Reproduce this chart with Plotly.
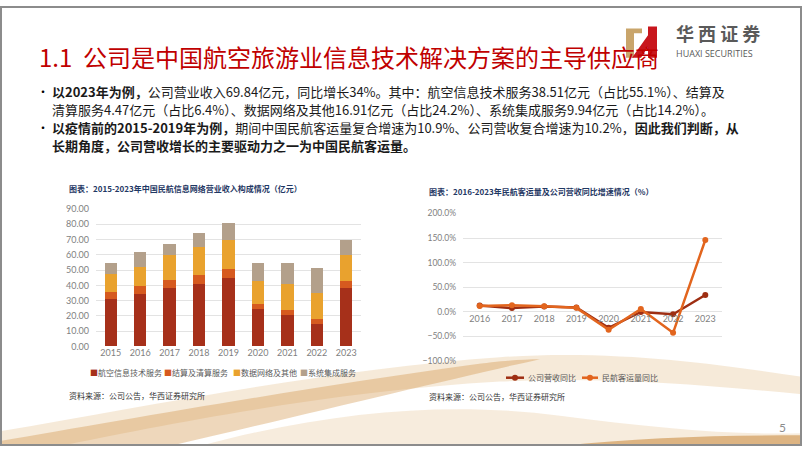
import plotly.graph_objects as go

W, H = 802, 451

# ---------------- data ----------------
years_bar = ["2015", "2016", "2017", "2018", "2019", "2020", "2021", "2022", "2023"]
bar_names = ["航空信息技术服务", "结算及清算服务", "数据网络及其他", "系统集成服务"]
aviation = [30.8, 34.3, 38.4, 41.2, 44.6, 24.3, 20.7, 14.9, 38.51]
settlement = [5.0, 5.1, 5.1, 5.5, 5.9, 3.8, 3.2, 3.0, 4.47]
data_net = [11.5, 12.8, 16.2, 18.1, 19.0, 15.0, 17.0, 17.1, 16.91]
system_int = [7.1, 9.6, 7.3, 9.6, 11.3, 11.3, 13.5, 16.6, 9.94]
bar_colors = ["#A6301A", "#D65A1F", "#E9A22E", "#B3A08B"]

years_line = ["2016", "2017", "2018", "2019", "2020", "2021", "2022", "2023"]
line_names = ["公司营收同比", "民航客运量同比"]
rev_yoy = [12.5, 7.5, 10.5, 8.5, -32.7, -0.5, -5.1, 34.0]
pax_yoy = [11.9, 13.0, 10.9, 7.9, -36.7, 5.5, -42.9, 146.1]
line_colors = ["#9E2E12", "#E2651E"]

title = "1.1  公司是中国航空旅游业信息技术解决方案的主导供应商"
bullets = [
    "<b>以2023年为例，</b>公司营业收入69.84亿元，同比增长34%。其中：航空信息技术服务38.51亿元（占比55.1%）、结算及",
    "清算服务4.47亿元（占比6.4%）、数据网络及其他16.91亿元（占比24.2%）、系统集成服务9.94亿元（占比14.2%）。",
    "<b>以疫情前的2015-2019年为例，</b>期间中国民航客运量复合增速为10.9%、公司营收复合增速为10.2%，<b>因此我们判断，从</b>",
    "<b>长期角度，公司营收增长的主要驱动力之一为中国民航客运量。</b>",
]
chart1_title = "图表：2015-2023年中国民航信息网络营业收入构成情况（亿元）"
chart2_title = "图表：2016-2023年民航客运量及公司营收同比增速情况（%）"
source_text = "资料来源：公司公告，华西证券研究所"

CJK = "Noto Sans CJK SC"
NUM = "Lato"


def px(x):
    return x / W


def py(y):
    return 1 - y / H


def path(pts):
    return "M " + " L ".join(f"{px(x):.5f},{py(y):.5f}" for x, y in pts) + " Z"


def curve_path(cmds):
    out = []
    for c, pts in cmds:
        out.append(c + " " + " ".join(f"{px(x):.5f},{py(y):.5f}" for x, y in pts))
    return " ".join(out) + " Z"


fig = go.Figure()

for name, vals, col in zip(bar_names, [aviation, settlement, data_net, system_int], bar_colors):
    fig.add_trace(go.Bar(x=years_bar, y=vals, name=name, marker_color=col,
                         marker_line_width=0, xaxis="x", yaxis="y", showlegend=False))

for name, vals, col in zip(line_names, [rev_yoy, pax_yoy], line_colors):
    fig.add_trace(go.Scatter(x=years_line, y=vals, name=name, mode="lines+markers",
                             line=dict(color=col, width=2.5),
                             marker=dict(color=col, size=6),
                             xaxis="x2", yaxis="y2", showlegend=False))

x1d = [px(96), px(361)]
y1d = [py(349), py(208)]
x2d = [px(463), px(722)]
y2d = [py(363.7), py(212.7)]
yr2 = [-100, 200]
zero_pos = y2d[0] + (y2d[1] - y2d[0]) * (0 - yr2[0]) / (yr2[1] - yr2[0])

tickfont = dict(family=NUM, size=9, color="#7F7F7F")

fig.update_layout(
    width=W, height=H,
    margin=dict(l=0, r=0, t=0, b=0),
    paper_bgcolor="white", plot_bgcolor="rgba(0,0,0,0)",
    barmode="stack", bargap=0.58,
    xaxis=dict(domain=x1d, anchor="y", type="category", showgrid=False, showline=False,
               ticks="", tickfont=tickfont),
    yaxis=dict(domain=y1d, anchor="x", range=[0, 90], dtick=10, tickformat=".2f",
               showgrid=True, gridcolor="#E3E3E3", gridwidth=1, zeroline=False,
               showline=False, ticks="", tickfont=tickfont, ticklabelstandoff=6),
    xaxis2=dict(domain=x2d, anchor="free", position=zero_pos, type="category",
                showgrid=False, showline=False, ticks="", tickfont=tickfont),
    yaxis2=dict(domain=y2d, anchor="x2", range=yr2, dtick=50, tickformat=".1f",
                ticksuffix="%", showgrid=True, gridcolor="#E3E3E3", gridwidth=1,
                zeroline=False, showline=False, ticks="",
                tickfont=dict(family=NUM, size=8.5, color="#7F7F7F"), ticklabelstandoff=6),
)

P = dict(xref="paper", yref="paper")
shapes = []
# decorative gold swooshes (background)
shapes.append(dict(type="path", layer="below", line=dict(width=0), **P,
                   fillcolor="rgba(214,158,84,0.22)",
                   path=curve_path([("M", [(0, 436)]),
                                    ("C", [(150, 410), (330, 372), (500, 360)]),
                                    ("C", [(620, 352), (720, 368), (802, 380)]),
                                    ("L", [(802, 398)]),
                                    ("C", [(700, 388), (600, 380), (500, 385)]),
                                    ("C", [(330, 395), (160, 430), (60, 451)]),
                                    ("L", [(0, 451)])])))
shapes.append(dict(type="path", layer="below", line=dict(width=0), **P,
                   fillcolor="rgba(205,140,60,0.35)",
                   path=curve_path([("M", [(0, 446)]),
                                    ("C", [(120, 425), (300, 392), (470, 368)]),
                                    ("C", [(500, 364), (520, 362), (540, 362)]),
                                    ("C", [(460, 380), (300, 420), (170, 451)]),
                                    ("L", [(0, 451)])])))
shapes.append(dict(type="path", layer="below", line=dict(width=0), **P,
                   fillcolor="rgba(220,170,100,0.22)",
                   path=curve_path([("M", [(200, 451)]),
                                    ("C", [(330, 415), (450, 405), (560, 420)]),
                                    ("C", [(650, 432), (730, 440), (802, 438)]),
                                    ("L", [(802, 451)])])))
shapes.append(dict(type="path", layer="below", line=dict(width=0), **P,
                   fillcolor="rgba(200,135,55,0.55)",
                   path=curve_path([("M", [(560, 451)]),
                                    ("C", [(640, 442), (720, 440), (802, 440)]),
                                    ("L", [(802, 451)])])))
# logo
shapes.append(dict(type="path", line=dict(width=0), fillcolor="#C9A56B", **P,
                   path=path([(626, 23), (642, 23), (642, 28), (634, 28), (634, 53), (626, 53)])))
shapes.append(dict(type="path", line=dict(width=0), fillcolor="#C8161D", **P,
                   path=path([(632, 53), (641, 53), (648, 42), (648, 53), (657, 53),
                              (657, 21), (648, 21), (648, 30)])))
# slide border
shapes.append(dict(type="rect", x0=px(1), x1=px(801), y0=py(450), y1=py(1), **P,
                   line=dict(color="#8C8C8C", width=2), fillcolor="rgba(0,0,0,0)"))

annotations = []


def txt(x, y, text, size, color="#000000", family=CJK, xanchor="left", yanchor="middle", **kw):
    annotations.append(dict(x=px(x), y=py(y), xref="paper", yref="paper", text=text,
                            showarrow=False, xanchor=xanchor, yanchor=yanchor,
                            font=dict(family=family, size=size, color=color), **kw))


# logo text
txt(674, 28, "<b>华 西 证 券</b>", 18, "#5A5A5A")
txt(674, 49, "HUAXI SECURITIES", 9, "#5A5A5A", family="Open Sans")
# title
txt(37, 52, title, 24, "#C00000")
# bullets
line_y = [88, 106, 125, 143]
for i, (t, yy) in enumerate(zip(bullets, line_y)):
    if i in (0, 2):
        txt(35, yy, "•", 12, "#000000")
    txt(50, yy, t, 13, "#1A1A1A")

# chart titles
txt(67, 187, "<b>" + chart1_title + "</b>", 8, "#1F3864")
txt(427, 190, "<b>" + chart2_title + "</b>", 8, "#1F3864")
# sources
txt(67, 399, source_text, 8, "#333333")
txt(427, 400, source_text, 8, "#333333")
# page number
txt(782, 432, "5", 12, "#8C8C8C", family=NUM, xanchor="center")

# bar legend (custom)
leg_x = [88, 162, 231, 298]
for name, col, lx in zip(bar_names, bar_colors, leg_x):
    txt(lx, 376, f"<span style='color:{col}'>■</span>" + name, 8, "#595959")

# line legend (custom)
leg2 = [(506, 524), (582, 598)]
for name, col, (a, b) in zip(line_names, line_colors, leg2):
    shapes.append(dict(type="line", x0=px(a), x1=px(b), y0=py(381), y1=py(381), **P,
                       line=dict(color=col, width=2.5)))
    shapes.append(dict(type="circle", x0=px((a + b) / 2 - 3), x1=px((a + b) / 2 + 3),
                       y0=py(384), y1=py(378), **P, line=dict(width=0), fillcolor=col))
    txt(b + 2, 381, name, 8, "#595959")

fig.update_layout(shapes=shapes, annotations=annotations)
fig.write_html("out.html")
